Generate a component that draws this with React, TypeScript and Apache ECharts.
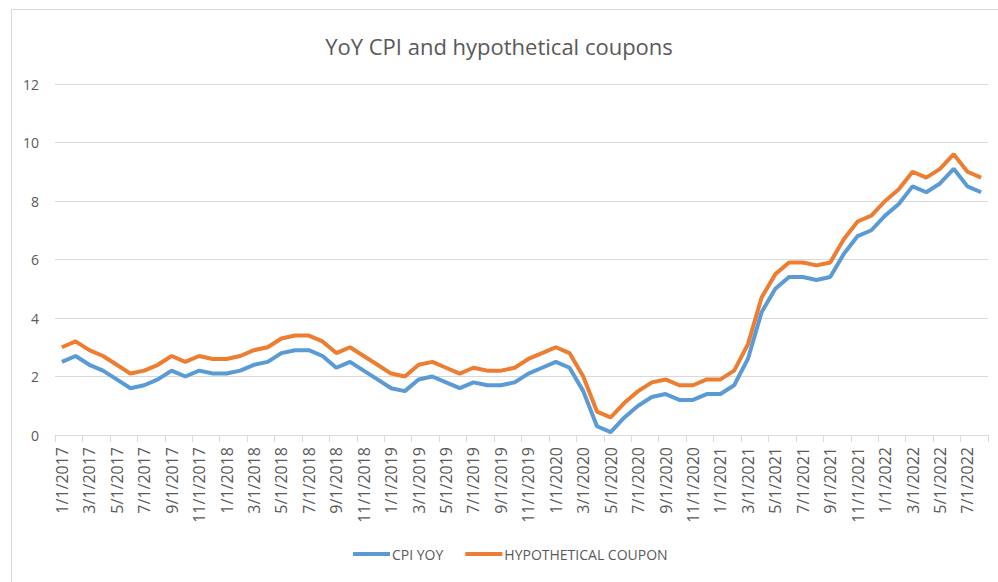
import React, { useEffect, useRef } from "react";
import * as echarts from "echarts";

const categories = [
  "1/1/2017","2/1/2017","3/1/2017","4/1/2017","5/1/2017","6/1/2017","7/1/2017","8/1/2017","9/1/2017","10/1/2017","11/1/2017","12/1/2017",
  "1/1/2018","2/1/2018","3/1/2018","4/1/2018","5/1/2018","6/1/2018","7/1/2018","8/1/2018","9/1/2018","10/1/2018","11/1/2018","12/1/2018",
  "1/1/2019","2/1/2019","3/1/2019","4/1/2019","5/1/2019","6/1/2019","7/1/2019","8/1/2019","9/1/2019","10/1/2019","11/1/2019","12/1/2019",
  "1/1/2020","2/1/2020","3/1/2020","4/1/2020","5/1/2020","6/1/2020","7/1/2020","8/1/2020","9/1/2020","10/1/2020","11/1/2020","12/1/2020",
  "1/1/2021","2/1/2021","3/1/2021","4/1/2021","5/1/2021","6/1/2021","7/1/2021","8/1/2021","9/1/2021","10/1/2021","11/1/2021","12/1/2021",
  "1/1/2022","2/1/2022","3/1/2022","4/1/2022","5/1/2022","6/1/2022","7/1/2022","8/1/2022",
];

const cpiYoy = [
  2.5, 2.7, 2.4, 2.2, 1.9, 1.6, 1.7, 1.9, 2.2, 2.0, 2.2, 2.1,
  2.1, 2.2, 2.4, 2.5, 2.8, 2.9, 2.9, 2.7, 2.3, 2.5, 2.2, 1.9,
  1.6, 1.5, 1.9, 2.0, 1.8, 1.6, 1.8, 1.7, 1.7, 1.8, 2.1, 2.3,
  2.5, 2.3, 1.5, 0.3, 0.1, 0.6, 1.0, 1.3, 1.4, 1.2, 1.2, 1.4,
  1.4, 1.7, 2.6, 4.2, 5.0, 5.4, 5.4, 5.3, 5.4, 6.2, 6.8, 7.0,
  7.5, 7.9, 8.5, 8.3, 8.6, 9.1, 8.5, 8.3,
];

const hypotheticalCoupon = [
  3.0, 3.2, 2.9, 2.7, 2.4, 2.1, 2.2, 2.4, 2.7, 2.5, 2.7, 2.6,
  2.6, 2.7, 2.9, 3.0, 3.3, 3.4, 3.4, 3.2, 2.8, 3.0, 2.7, 2.4,
  2.1, 2.0, 2.4, 2.5, 2.3, 2.1, 2.3, 2.2, 2.2, 2.3, 2.6, 2.8,
  3.0, 2.8, 2.0, 0.8, 0.6, 1.1, 1.5, 1.8, 1.9, 1.7, 1.7, 1.9,
  1.9, 2.2, 3.1, 4.7, 5.5, 5.9, 5.9, 5.8, 5.9, 6.7, 7.3, 7.5,
  8.0, 8.4, 9.0, 8.8, 9.1, 9.6, 9.0, 8.8,
];

const FONT = "'Open Sans', 'Noto Sans', sans-serif";
const TEXT = "#595959";
const GRID = "#d9d9d9";

export default function App() {
  const ref = useRef<HTMLDivElement>(null);
  useEffect(() => {
    if (!ref.current) return;
    const chart = echarts.init(ref.current, null, { renderer: "svg" });
    chart.setOption({
      animation: false,
      backgroundColor: "#ffffff",
      textStyle: { fontFamily: FONT },
      graphic: [
        {
          type: "rect",
          shape: { x: 11.5, y: 9.5, width: 1000, height: 600 },
          style: { fill: "none", stroke: GRID, lineWidth: 1 },
          silent: true,
          z: -10,
        },
      ],
      title: {
        text: "YoY CPI and hypothetical coupons",
        left: "center",
        top: 30,
        textStyle: { fontFamily: FONT, fontSize: 22, fontWeight: "normal", color: TEXT },
      },
      legend: {
        left: 348,
        top: 542,
        itemWidth: 37,
        itemHeight: 4,
        itemGap: 22,
        icon: "rect",
        textStyle: { fontFamily: FONT, fontSize: 14, color: TEXT, padding: [0, 0, 0, -3] },
        data: ["CPI YOY", "HYPOTHETICAL COUPON"],
      },
      grid: { left: 55, right: 10, top: 84, bottom: 147, containLabel: false },
      xAxis: {
        type: "category",
        data: categories,
        boundaryGap: true,
        axisLine: { show: true, lineStyle: { color: GRID, width: 1 } },
        axisTick: { show: true, interval: 1, length: 7, lineStyle: { color: GRID } },
        axisLabel: {
          interval: 1,
          rotate: 90,
          margin: 12,
          color: TEXT,
          fontSize: 16,
          fontFamily: FONT,
        },
        splitLine: { show: false },
      },
      yAxis: {
        type: "value",
        min: 0,
        max: 12,
        interval: 2,
        axisLine: { show: false },
        axisTick: { show: false },
        axisLabel: { color: TEXT, fontSize: 14, fontFamily: FONT, margin: 16 },
        splitLine: { show: true, lineStyle: { color: GRID, width: 1 } },
      },
      series: [
        {
          name: "CPI YOY",
          type: "line",
          data: cpiYoy,
          symbol: "none",
          lineStyle: { color: "#5B9BD5", width: 4 },
          itemStyle: { color: "#5B9BD5" },
          z: 3,
        },
        {
          name: "HYPOTHETICAL COUPON",
          type: "line",
          data: hypotheticalCoupon,
          symbol: "none",
          lineStyle: { color: "#ED7D31", width: 4 },
          itemStyle: { color: "#ED7D31" },
          z: 2,
        },
      ],
    });
    return () => chart.dispose();
  }, []);
  return (
    <div
      ref={ref}
      style={{ position: "absolute", left: 0, top: 0, width: 998, height: 582 }}
    />
  );
}
